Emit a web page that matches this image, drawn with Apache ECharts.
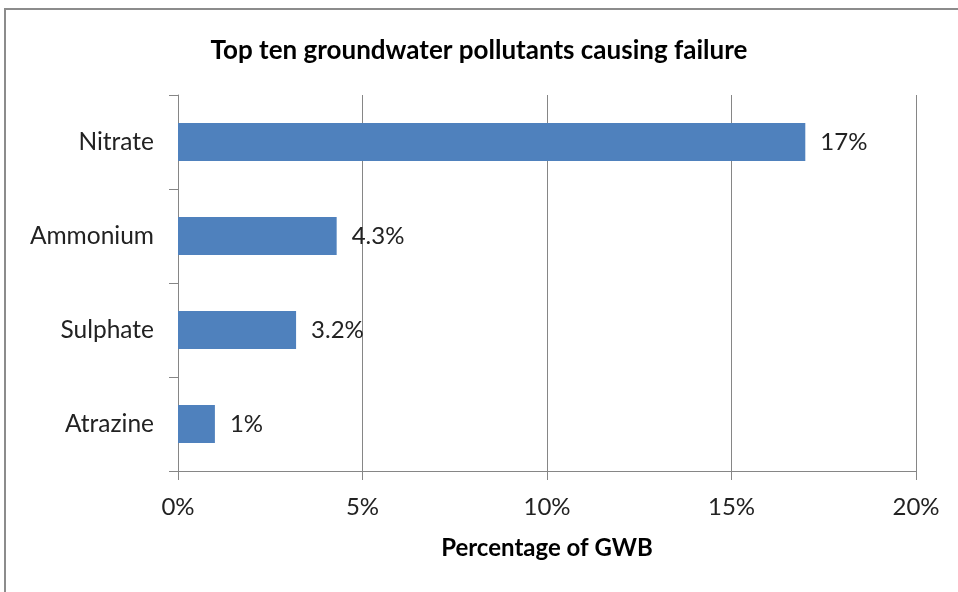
<!DOCTYPE html>
<html>
<head>
<meta charset="utf-8">
<script src="https://cdn.jsdelivr.net/npm/echarts@6/dist/echarts.min.js"></script>
<style>
  html, body { margin: 0; padding: 0; background: #fff; }
  #chart { width: 958px; height: 592px; }
</style>
</head>
<body>
<div id="chart"></div>
<script>
// Pollutants, listed top to bottom
const pollutants = ['Nitrate', 'Ammonium', 'Sulphate', 'Atrazine'];
// Share of groundwater bodies failing, in percent
const shareOfGWB = [17, 4.3, 3.2, 1];
// Axis ticks in percent
const xTicks = [0, 5, 10, 15, 20];

const FONT = 'Lato, "Open Sans", sans-serif';
const GREY = '#868686';

const chart = echarts.init(document.getElementById('chart'), null, { renderer: 'canvas' });

chart.setOption({
  animation: false,
  backgroundColor: '#ffffff',
  graphic: [{
    type: 'rect',
    shape: { x: 5, y: 9, width: 1000, height: 1000 },
    style: { fill: 'none', stroke: '#8c8c8c', lineWidth: 2 },
    silent: true
  }],
  title: {
    text: 'Top ten groundwater pollutants causing failure',
    left: 'center',
    top: 33,
    textStyle: { fontFamily: FONT, fontWeight: 'bold', fontSize: 26, color: '#000' }
  },
  grid: { left: 178, right: 42, top: 95, bottom: 121, containLabel: false },
  xAxis: {
    type: 'value',
    min: xTicks[0],
    max: xTicks[xTicks.length - 1],
    interval: xTicks[1] - xTicks[0],
    name: 'Percentage of GWB',
    nameLocation: 'middle',
    nameGap: 65,
    nameTextStyle: { fontFamily: FONT, fontWeight: 'bold', fontSize: 24, color: '#000' },
    axisLine: { show: true, lineStyle: { color: GREY, width: 1 } },
    axisTick: { show: true, length: 9, lineStyle: { color: GREY } },
    axisLabel: {
      formatter: v => v + '%',
      margin: 24,
      fontFamily: FONT, fontSize: 24, color: '#222'
    },
    splitLine: { show: true, lineStyle: { color: GREY, width: 1 } }
  },
  yAxis: {
    type: 'category',
    data: pollutants,
    inverse: true,
    axisLine: { show: true, lineStyle: { color: GREY, width: 1 } },
    axisTick: { show: true, length: 9, alignWithLabel: false, lineStyle: { color: GREY } },
    axisLabel: { margin: 24, fontFamily: FONT, fontSize: 24.5, color: '#222' }
  },
  series: [{
    type: 'bar',
    data: shareOfGWB,
    barWidth: 38,
    itemStyle: { color: '#4F81BD' },
    label: {
      show: true,
      position: 'right',
      distance: 15,
      formatter: p => p.value + '%',
      fontFamily: FONT, fontSize: 24, color: '#222'
    }
  }]
});
</script>
</body>
</html>
